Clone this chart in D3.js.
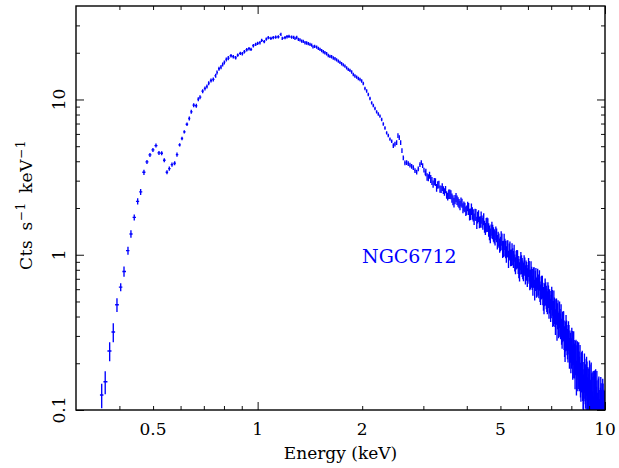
<!DOCTYPE html>
<html><head><meta charset="utf-8">
<script src="https://cdn.jsdelivr.net/npm/d3@7"></script>
<style>html,body{margin:0;padding:0;background:#fff;} svg{display:block;}</style>
</head><body><svg id="chart" width="619" height="468"></svg>
<script>
// ---- data (energy in keV, rate in counts/s/keV, 1-sigma error in percent) ----
const lowEnergy = [0.3557,0.3641,0.375,0.3841,0.3936,0.4035,0.4124,0.4234,0.4318,0.4414,0.4515,0.4605,0.4707,0.4802,0.4898,0.4996,0.5097,0.52,0.5294,0.5386,0.5483,0.5568,0.5668,0.577,0.5859,0.5965,0.6057,0.615,0.6261];
const lowRate = [0.125,0.152,0.24,0.318,0.476,0.619,0.78,1.062,1.361,1.741,2.208,2.539,3.396,3.963,4.397,4.736,5.049,4.53,4.503,4.059,3.396,3.588,3.807,3.882,4.416,5.102,5.604,6.189,6.927];
const lowErrPct = [18,17,14,14,10,6,7.5,6,5.5,4.5,4.5,4.5,4,3,3,3,3,3,3,3,3,3,3,3,3,2.5,2.5,2.5,2.5];

const midEnergy = [0.6358,0.644,0.6546,0.666,0.6748,0.6825,0.6948,0.7053,0.7148,0.723,0.7341,0.7454,0.7573,0.7638,0.774,0.7845,0.7933,0.8018,0.8124,0.8232,0.8381,0.851,0.8647,0.8763,0.8915,0.9034,0.9156,0.9303,0.9444,0.957,0.9718,0.9874,1.0003,1.0156,1.027,1.045,1.059,1.073,1.092,1.109,1.127,1.147,1.167,1.177,1.199,1.215,1.231,1.253,1.27,
1.281,1.296,1.31,1.324,1.339,1.353,1.369,1.384,1.399,1.415,1.431,1.443,1.459,1.479,1.495,1.512,1.529,1.545,1.562,1.58,1.597,1.615,1.633,1.651,1.67,1.688,1.707,1.726,1.745,1.764,1.784,1.804,1.823,1.844,1.865,1.885,1.906,1.928,1.949,1.971,1.993,2.014,2.037,2.06,2.082,2.106,2.13,2.152,2.177,2.201,2.225,2.25,2.276,2.3,2.326,2.352,2.377,2.404,2.432,2.458,2.485,2.513,2.535,2.557,2.581,2.603,2.626,2.655,2.685,2.714,2.745,2.776,2.806,2.838,2.87,2.9,2.933,2.959,2.986,3.012,3.038];
const midRate = [7.54,8.33,9.19,9.11,10.04,10.35,11.31,11.78,12.13,12.74,13.26,13.46,14.22,14.94,15.78,16.16,16.82,17.33,18.12,18.47,19.14,18.86,18.58,19.31,19.81,19.72,20.31,20.92,21.24,21.02,22.21,22.64,22.98,23.22,24.03,23.57,24.49,25.01,24.75,25.01,25.23,25.3,26.27,24.75,25.01,25.38,25.5,25.23,25.12,
24.75,25.1,24.38,24.2,23.77,23.67,23.22,23.1,22.88,22.64,22.4,21.82,21.98,21.75,21.33,21.02,20.65,20.31,20.01,19.72,19.22,18.94,18.86,18.52,18.3,17.98,17.66,17.33,17.0,16.7,16.4,15.97,15.62,15.39,15.04,14.5,14.18,13.93,13.66,13.46,13.16,12.68,11.78,11.35,10.77,10.15,9.52,9.15,8.75,8.33,8.06,7.82,7.43,6.95,6.55,6.1,5.86,5.56,5.38,5.05,5.16,5.28,5.86,5.69,5.28,4.69,4.21,3.905,3.92,3.865,3.78,3.713,3.64,3.48,3.405,3.57,3.807,3.92,3.75,3.509,3.365];
const midErrPct = [3,3,3,3,3,3,3,3,3,3,3,3,3,3,3,3,3,3,3,3,2.5,2.5,2.5,2.5,2.5,2.5,2.5,2.5,2.5,2.5,2.5,2.5,2.5,2.5,2.5,2.5,2.5,2.5,2.5,2.5,2.5,2.5,2.5,2.5,2.5,2.5,2.5,2.5,2.5,
2.5,2.5,2.5,2.5,2.5,2.5,2.5,2.5,2.5,2.5,2.5,2.5,2.5,2.5,2.5,2.5,2.5,2.5,2.5,2.5,2.5,2.5,2.5,2.5,2.5,2.5,2.5,2.5,2.5,2.5,2.5,2.5,2.5,2.5,2.5,2.5,2.5,2.5,2.5,2.5,2.5,2.5,2.5,2.5,2.5,2.5,2.5,2.5,2.5,2.5,2.5,2.5,2.5,2.5,2.5,2.5,2.5,2.5,2.5,3.5,3.5,3.5,3.5,3.5,3.5,3.5,3.5,3.5,3.5,3.5,3.5,3.5,3.5,3.5,3.5,3.5,3.5,3.5,3.5,3.5,3.5];

const highEnergyA = [3.05,3.1,3.15,3.2,3.25,3.3,3.35,3.4,3.45,3.5,3.55,3.6,3.65,3.7,3.75,3.8,3.85,3.9,3.95,4.0,4.05,4.1,4.15,4.2,4.25,4.3,4.35,4.4,4.45,4.5,4.55,4.6,4.65,4.7,4.75,4.8,4.85,4.9,4.95,5.0,5.05,5.1,5.15,5.2,5.25,5.3,5.35,5.4,5.45,5.5,5.55,5.6,5.65,5.7,5.75,5.8,5.85,5.9,5.95,6.0,6.05,6.1,6.15,6.2,6.25,6.3,6.35,6.4,6.45,6.5,6.55,6.6,6.65,6.7,6.75,6.8,6.85,6.9,6.95,7.0,7.05,7.1,7.15,7.2,7.25,7.3,7.35,7.4,7.45,7.5,7.55,7.6,7.65,7.7,7.75,7.8,7.85,7.9,7.95,8.0,8.05,8.1,8.15,8.2,8.25,8.3,8.35,8.4,8.45,8.5,8.55,8.6,8.65,8.7,8.75,8.8,8.85,8.9,8.95,9.0,9.05,9.1,9.15,9.2,9.25,9.3,9.35,9.4,9.45,9.5,9.55,9.6,9.65,9.7,9.75,9.8,9.85,9.9,9.95];
const highRateA = [3.39,3.14,3.08,2.85,2.94,2.82,2.65,2.73,2.54,2.43,
2.46,2.44,2.25,2.27,2.25,2.14,2.19,2.00,2.02,1.94,
1.98,1.83,1.85,1.70,1.81,1.74,1.62,1.74,1.59,1.52,
1.56,1.56,1.39,1.42,1.41,1.32,1.38,1.21,1.24,1.18,
1.22,1.10,1.12,1.01,1.10,1.05,0.959,1.05,0.939,0.891,
0.933,0.944,0.822,0.861,0.871,0.807,0.875,0.750,0.789,0.754,
0.791,0.702,0.724,0.639,0.722,0.687,0.619,0.703,0.617,0.585,
0.620,0.629,0.528,0.560,0.568,0.516,0.570,0.469,0.500,0.471,
0.499,0.427,0.444,0.375,0.439,0.409,0.356,0.418,0.352,0.325,
0.350,0.356,0.283,0.305,0.309,0.272,0.307,0.238,0.258,0.237,
0.258,0.212,0.225,0.181,0.226,0.209,0.175,0.218,0.176,0.161,
0.181,0.188,0.142,0.159,0.166,0.143,0.172,0.126,0.144,0.133,
0.149,0.119,0.130,0.100,0.135,0.125,0.102,0.138,0.107,0.0979,
0.115,0.122,0.0865,0.103,0.110,0.0925,0.118,0.0812,0.0981];
const highEnergyB = [3.075,3.125,3.175,3.225,3.275,3.325,3.375,3.425,3.475,3.525,3.575,3.625,3.675,3.725,3.775,3.825,3.875,3.925,3.975,4.025,4.075,4.125,4.175,4.225,4.275,4.325,4.375,4.425,4.475,4.525,4.575,4.625,4.675,4.725,4.775,4.825,4.875,4.925,4.975,5.025,5.075,5.125,5.175,5.225,5.275,5.325,5.375,5.425,5.475,5.525,5.575,5.625,5.675,5.725,5.775,5.825,5.875,5.925,5.975,6.025,6.075,6.125,6.175,6.225,6.275,6.325,6.375,6.425,6.475,6.525,6.575,6.625,6.675,6.725,6.775,6.825,6.875,6.925,6.975,7.025,7.075,7.125,7.175,7.225,7.275,7.325,7.375,7.425,7.475,7.525,7.575,7.625,7.675,7.725,7.775,7.825,7.875,7.925,7.975,8.025,8.075,8.125,8.175,8.225,8.275,8.325,8.375,8.425,8.475,8.525,8.575,8.625,8.675,8.725,8.775,8.825,8.875,8.925,8.975,9.025,9.075,9.125,9.175,9.225,9.275,9.325,9.375,9.425,9.475,9.525,9.575,9.625,9.675,9.725,9.775,9.825,9.875,9.925,9.975];
const highRateB = [3.17,3.26,2.99,2.96,2.70,2.84,2.64,2.61,2.63,2.37,
2.46,2.32,2.17,2.34,2.19,2.08,2.15,2.05,1.91,2.05,
1.82,1.97,1.80,1.82,1.61,1.78,1.63,1.64,1.70,1.47,
1.57,1.45,1.33,1.48,1.36,1.28,1.34,1.27,1.15,1.28,
1.09,1.22,1.09,1.10,0.941,1.08,0.964,0.977,1.03,0.856,
0.943,0.867,0.784,0.919,0.836,0.783,0.846,0.803,0.718,0.836,
0.695,0.794,0.701,0.720,0.599,0.715,0.629,0.646,0.690,0.558,
0.626,0.566,0.501,0.603,0.539,0.498,0.544,0.510,0.445,0.531,
0.423,0.497,0.426,0.438,0.345,0.428,0.363,0.374,0.403,0.307,
0.355,0.310,0.263,0.336,0.289,0.259,0.290,0.266,0.221,0.277,
0.209,0.258,0.214,0.223,0.166,0.222,0.181,0.190,0.210,0.151,
0.184,0.159,0.131,0.180,0.153,0.136,0.160,0.147,0.120,0.162,
0.115,0.154,0.123,0.133,0.092,0.136,0.108,0.117,0.135,0.0907,
0.118,0.100,0.0797,0.121,0.100,0.0878,0.110,0.0999,0.0785];
const highErrPct = [5.5,5.2,5.9,5.4,5.7,5.6,5.3,5.8,5.5,5.7,
7,6.7,7.3,6.9,7.1,7,6.6,7.4,7,7.1,
8.8,8.4,9.2,8.6,9,8.8,8.5,9.1,8.8,8.9,
10.5,10.1,10.9,10.3,10.7,10.5,10.2,10.8,10.5,10.6,
12.5,12,13,12.2,12.8,12.5,12.1,12.9,12.5,12.6,
13.8,13.3,14.3,13.5,14.1,13.8,13.4,14.2,13.8,13.9,
15,14.5,15.5,14.8,15.2,15,14.6,15.4,15,15.1,
17,16.5,17.5,16.8,17.2,17,16.6,17.4,17,17.1,
19,18.5,19.5,18.8,19.2,19,18.6,19.4,19,19.1,
22,21.5,22.5,21.8,22.2,22,21.6,22.4,22,22.1,
25,24.5,25.5,24.8,25.2,25,24.6,25.4,25,25.1,
28.5,28,29,28.3,28.7,28.5,28.1,28.9,28.5,28.6,
32,31.5,32.5,31.8,32.2,32,31.6,32.4,32,32.1,
35,34.5,35.5,34.8,35.2,35,34.6,35.4,35];

const xMajorTicks = [1, 10];
const xMinorTicks = [0.4,0.5,0.6,0.7,0.8,0.9,2,3,4,5,6,7,8,9];
const xTickLabels = ["0.5","1","2","5","10"];
const yMajorTicks = [0.1, 1, 10];
const yMinorTicks = [0.2,0.3,0.4,0.5,0.6,0.7,0.8,0.9,2,3,4,5,6,7,8,9,20,30];
const yTickLabels = ["0.1","1","10"];
const xTitle = "Energy (keV)";
const sourceName = "NGC6712";

// ---- layout ----
const L = 76, R = 605, T = 6, B = 410;
const svg = d3.select("#chart");
const x = d3.scaleLog().domain([0.3, 10]).range([L, R]);
const y = d3.scaleLog().domain([0.1, 40]).range([B, T]);
const font = "'DejaVu Serif', serif";

svg.append("defs").append("clipPath").attr("id","clip")
  .append("rect").attr("x",L).attr("y",T).attr("width",R-L).attr("height",B-T);

// combine data, sorted by energy
const raw = [];
lowEnergy.forEach((e,i)=>raw.push({e, r:lowRate[i], p:lowErrPct[i]}));
midEnergy.forEach((e,i)=>raw.push({e, r:midRate[i], p:midErrPct[i]}));
highEnergyA.forEach((e,i)=>raw.push({e, r:highRateA[i], p:highErrPct[i]}));
highEnergyB.forEach((e,i)=>raw.push({e, r:highRateB[i], p:highErrPct[i]}));
raw.sort((a,b)=>a.e-b.e);
const pts = raw.map((d,i)=>{
  const prev = i>0 ? raw[i-1].e : d.e*d.e/raw[i+1].e;
  const next = i<raw.length-1 ? raw[i+1].e : d.e*d.e/raw[i-1].e;
  return {e:d.e, r:d.r, err:d.r*d.p/100, lo:Math.sqrt(prev*d.e), hi:Math.sqrt(d.e*next)};
});

const gData = svg.append("g").attr("clip-path","url(#clip)");
gData.selectAll("path").data(pts).enter().append("path")
  .attr("d", d => `M${x(d.lo)},${y(d.r)}H${x(d.hi)}M${x(d.e)},${y(d.r+d.err)}V${y(Math.max(d.r-d.err,1e-4))}`)
  .attr("stroke","#0000ff").attr("stroke-width",1.35).attr("fill","none");

// ---- axes (ticks inward on all four sides) ----
function ticks(axisGen, scale, vals, size, transform){
  const g = svg.append("g").attr("transform",transform)
    .call(axisGen(scale).tickValues(vals).tickSize(-size).tickFormat(""));
  g.select(".domain").remove();
  g.selectAll("line").attr("stroke","#111").attr("stroke-width",1);
}
ticks(d3.axisBottom, x, xMajorTicks, 8, `translate(0,${B})`);
ticks(d3.axisBottom, x, xMinorTicks, 4, `translate(0,${B})`);
ticks(d3.axisTop, x, xMajorTicks, 8, `translate(0,${T})`);
ticks(d3.axisTop, x, xMinorTicks, 4, `translate(0,${T})`);
ticks(d3.axisLeft, y, yMajorTicks, 8, `translate(${L},0)`);
ticks(d3.axisLeft, y, yMinorTicks, 4, `translate(${L},0)`);
ticks(d3.axisRight, y, yMajorTicks, 8, `translate(${R},0)`);
ticks(d3.axisRight, y, yMinorTicks, 4, `translate(${R},0)`);

svg.append("rect").attr("x",L).attr("y",T).attr("width",R-L).attr("height",B-T)
  .attr("fill","none").attr("stroke","#000").attr("stroke-width",1.4);

// tick labels
svg.selectAll("text.xl").data(xTickLabels).enter().append("text")
  .attr("x", d=>x(+d)).attr("y", 435).attr("text-anchor","middle")
  .attr("font-family",font).attr("font-size",17).attr("fill","#000").text(d=>d);
svg.selectAll("text.yl").data(yTickLabels).enter().append("text")
  .attr("transform", d=>`translate(65,${y(+d)}) rotate(-90)`).attr("text-anchor","middle")
  .attr("font-family",font).attr("font-size",17).attr("fill","#000").text(d=>d);

// axis titles
svg.append("text").attr("x",(L+R)/2).attr("y",459).attr("text-anchor","middle")
  .attr("font-family",font).attr("font-size",17).attr("fill","#000").text(xTitle);
const yt = svg.append("text").attr("transform",`translate(32,205) rotate(-90)`)
  .attr("text-anchor","middle").attr("font-family",font).attr("font-size",17)
  .attr("letter-spacing",0.6).attr("word-spacing",3).attr("fill","#000");
yt.append("tspan").text("Cts s");
yt.append("tspan").attr("dy",-7).attr("font-size",12).text("\u22121");
yt.append("tspan").attr("dy",7).text(" keV");
yt.append("tspan").attr("dy",-7).attr("font-size",12).text("\u22121");

// source label
svg.append("text").attr("x",362).attr("y",263).attr("font-family",font)
  .attr("font-size",19).attr("fill","#0000ff").text(sourceName);
</script></body></html>
